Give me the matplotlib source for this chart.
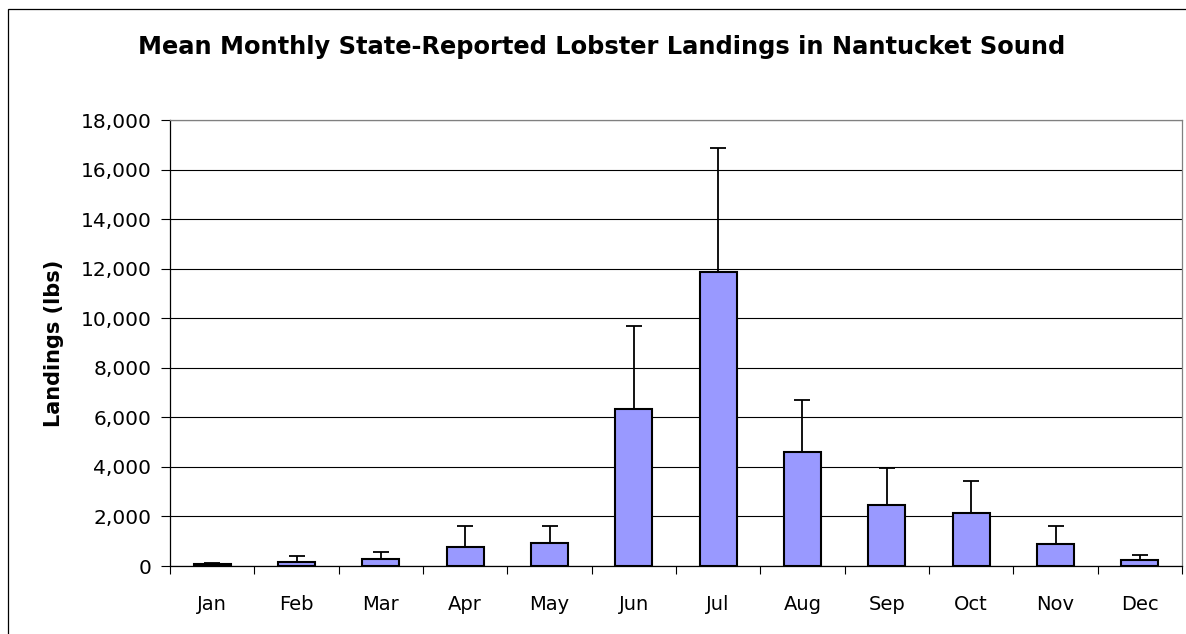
import matplotlib
matplotlib.use('Agg')
import matplotlib.pyplot as plt
import numpy as np
from matplotlib.patches import Rectangle
from matplotlib.ticker import FuncFormatter, FixedLocator

months = ['Jan', 'Feb', 'Mar', 'Apr', 'May', 'Jun', 'Jul', 'Aug', 'Sep', 'Oct', 'Nov', 'Dec']
mean_landings = [70, 150, 270, 780, 920, 6330, 11880, 4590, 2460, 2120, 900, 250]
upper_err = [60, 250, 310, 850, 710, 3370, 4970, 2120, 1480, 1310, 710, 210]
y_ticks = [0, 2000, 4000, 6000, 8000, 10000, 12000, 14000, 16000, 18000]

plt.rcParams['font.family'] = ['DejaVu Sans']

fig = plt.figure(figsize=(11.86, 6.34), dpi=100)
ax = fig.add_axes([170/1186, 68/634, 1012/1186, 446/634])

# outer chart frame (cut off at right and bottom like the original)
fig.patches.append(Rectangle((8/1186, -0.2), 1.2, 1 - 9/634 + 0.2,
                             transform=fig.transFigure, fill=False,
                             edgecolor='black', linewidth=0.9))

x = np.arange(len(months))
ax.bar(x, mean_landings, width=0.435, color='#9999FF', edgecolor='black',
       linewidth=1.5, zorder=3)
ax.errorbar(x, mean_landings, yerr=[np.zeros(len(x)), upper_err], fmt='none',
            ecolor='black', elinewidth=1.3, capsize=6, capthick=1.3, zorder=4)

ax.set_xlim(-0.5, len(months) - 0.5)
ax.set_ylim(0, 18000)
ax.set_yticks(y_ticks)
ax.yaxis.set_major_formatter(FuncFormatter(lambda v, p: f'{int(v):,}'))
ax.grid(axis='y', color='black', linewidth=0.8, zorder=0)

# ticks between categories, labels at centres
ax.xaxis.set_major_locator(FixedLocator(np.arange(-0.5, len(months), 1.0)))
ax.xaxis.set_minor_locator(FixedLocator(x))
ax.set_xticklabels([])
ax.set_xticklabels(months, minor=True)
ax.tick_params(axis='x', which='major', length=6, width=0.8, direction='out')
ax.tick_params(axis='x', which='minor', length=0, pad=21, labelsize=14)
ax.tick_params(axis='y', length=6.5, width=0.8, direction='out', pad=7, labelsize=14.5)

for s in ['left', 'bottom']:
    ax.spines[s].set_color('black')
    ax.spines[s].set_linewidth(0.9)
for s in ['top', 'right']:
    ax.spines[s].set_color('#808080')
    ax.spines[s].set_linewidth(0.9)

ax.set_ylabel('Landings (lbs)', fontsize=15, fontweight='bold', labelpad=12)
fig.text(602/1186, 1 - 47/634, 'Mean Monthly State-Reported Lobster Landings in Nantucket Sound',
         ha='center', va='center', fontsize=17.4, fontweight='bold')

fig.savefig('out.png', dpi=100)
